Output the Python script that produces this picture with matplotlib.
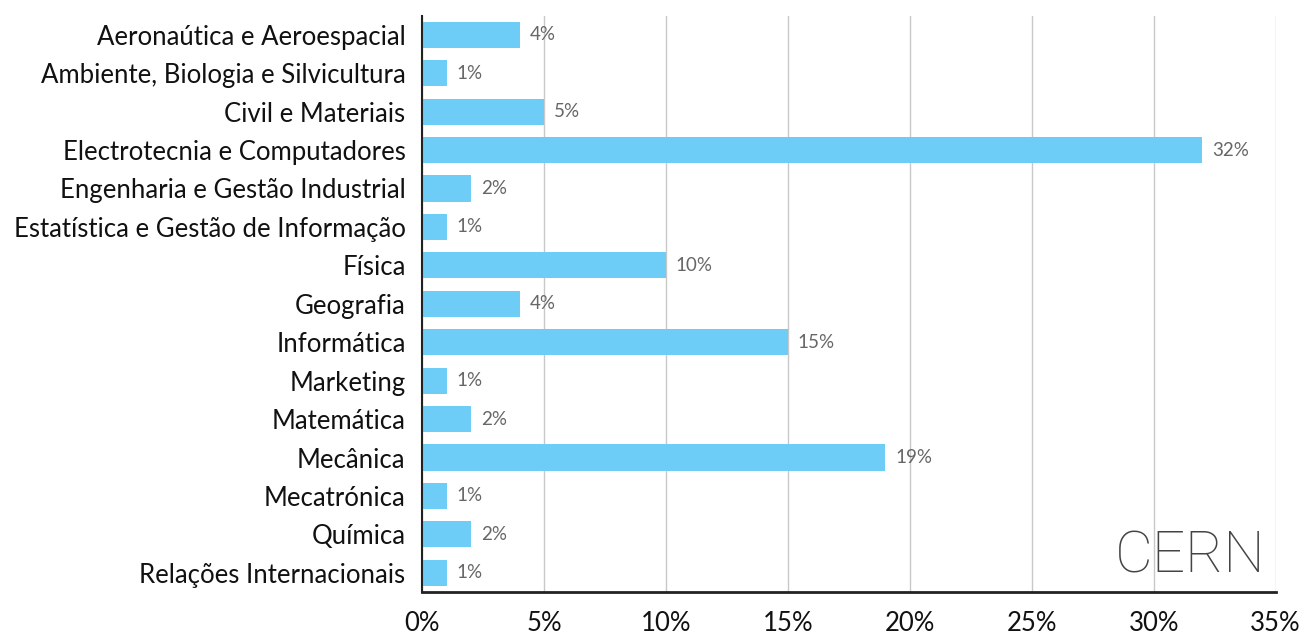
import matplotlib
matplotlib.use("Agg")
import matplotlib.pyplot as plt
from matplotlib.ticker import FuncFormatter

courses = [
    "Aeronaútica e Aeroespacial",
    "Ambiente, Biologia e Silvicultura",
    "Civil e Materiais",
    "Electrotecnia e Computadores",
    "Engenharia e Gestão Industrial",
    "Estatística e Gestão de Informação",
    "Física",
    "Geografia",
    "Informática",
    "Marketing",
    "Matemática",
    "Mecânica",
    "Mecatrónica",
    "Química",
    "Relações Internacionais",
]
share = [4, 1, 5, 32, 2, 1, 10, 4, 15, 1, 2, 19, 1, 2, 1]
xticks = [0, 5, 10, 15, 20, 25, 30, 35]

plt.rcParams['font.family'] = ['Lato', 'DejaVu Sans']

fig = plt.figure(figsize=(13.03, 6.37), dpi=100)
ax = fig.add_axes([0.324, 0.0706, 0.655, 0.905])

pos = list(range(len(courses)))
ax.barh(pos, share, height=0.68, color="#6dcdf6", zorder=2)
for y, v in zip(pos, share):
    ax.text(v + 0.4, y, f"{v}%", va="center", ha="left", fontsize=13.5, color="#666666")

ax.set_yticks(pos)
ax.set_yticklabels(courses, fontsize=18.5, color="#111111")
ax.set_ylim(len(courses) - 0.5, -0.5)
ax.set_xlim(0, 35)
ax.set_xticks(xticks)
ax.xaxis.set_major_formatter(FuncFormatter(lambda x, p: f"{int(x)}%"))
ax.tick_params(axis="x", labelsize=18.5, length=0, pad=14, colors="#111111")
ax.tick_params(axis="y", length=0, pad=12)
ax.grid(axis="x", color="#c8c8c8", linewidth=1, zorder=0)
for s in ["top", "right"]:
    ax.spines[s].set_visible(False)
ax.spines["left"].set_color("#222222")
ax.spines["bottom"].set_color("#222222")
ax.spines["left"].set_linewidth(1.5)
ax.spines["bottom"].set_linewidth(2)

# watermark-style label, bottom right
ax.text(34.6, 14.3, "CERN", ha="right", va="bottom", fontsize=42,
        family=["Roboto", "DejaVu Sans"], fontweight="light", color="#444444")

fig.savefig("out.png", dpi=100)
